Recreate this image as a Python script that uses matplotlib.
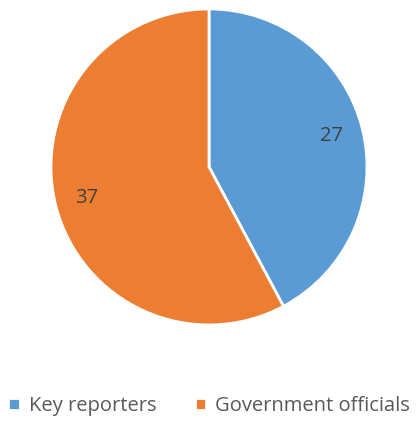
import matplotlib
matplotlib.use('Agg')
import matplotlib.pyplot as plt

labels = ['Key reporters', 'Government officials']
values = [27, 37]
colors = ['#5B9BD5', '#ED7D31']

plt.rcParams['font.family'] = ['Open Sans', 'DejaVu Sans']

fig = plt.figure(figsize=(4.18, 4.21), dpi=100)
ax = fig.add_axes([0.122, 0.228, 0.756, 0.751])

wedges, texts, autotexts = ax.pie(
    values, colors=colors, startangle=90, counterclock=False,
    autopct=lambda p: '{:.0f}'.format(p * sum(values) / 100),
    pctdistance=0.8, radius=1.0,
    wedgeprops={'edgecolor': 'white', 'linewidth': 2})
for t in autotexts:
    t.set_fontsize(14.5)
    t.set_color('#404040')
ax.set_xlim(-1, 1)
ax.set_ylim(-1, 1)
ax.set_aspect('equal')

fig.legend(wedges, labels, loc='center', bbox_to_anchor=(0.5, 0.035),
           ncol=2, frameon=False, fontsize=14.5, handlelength=0.55,
           handleheight=0.55, handletextpad=0.45, columnspacing=1.9,
           borderaxespad=0, borderpad=0, labelcolor='#595959')

fig.savefig('out.png', dpi=100)
